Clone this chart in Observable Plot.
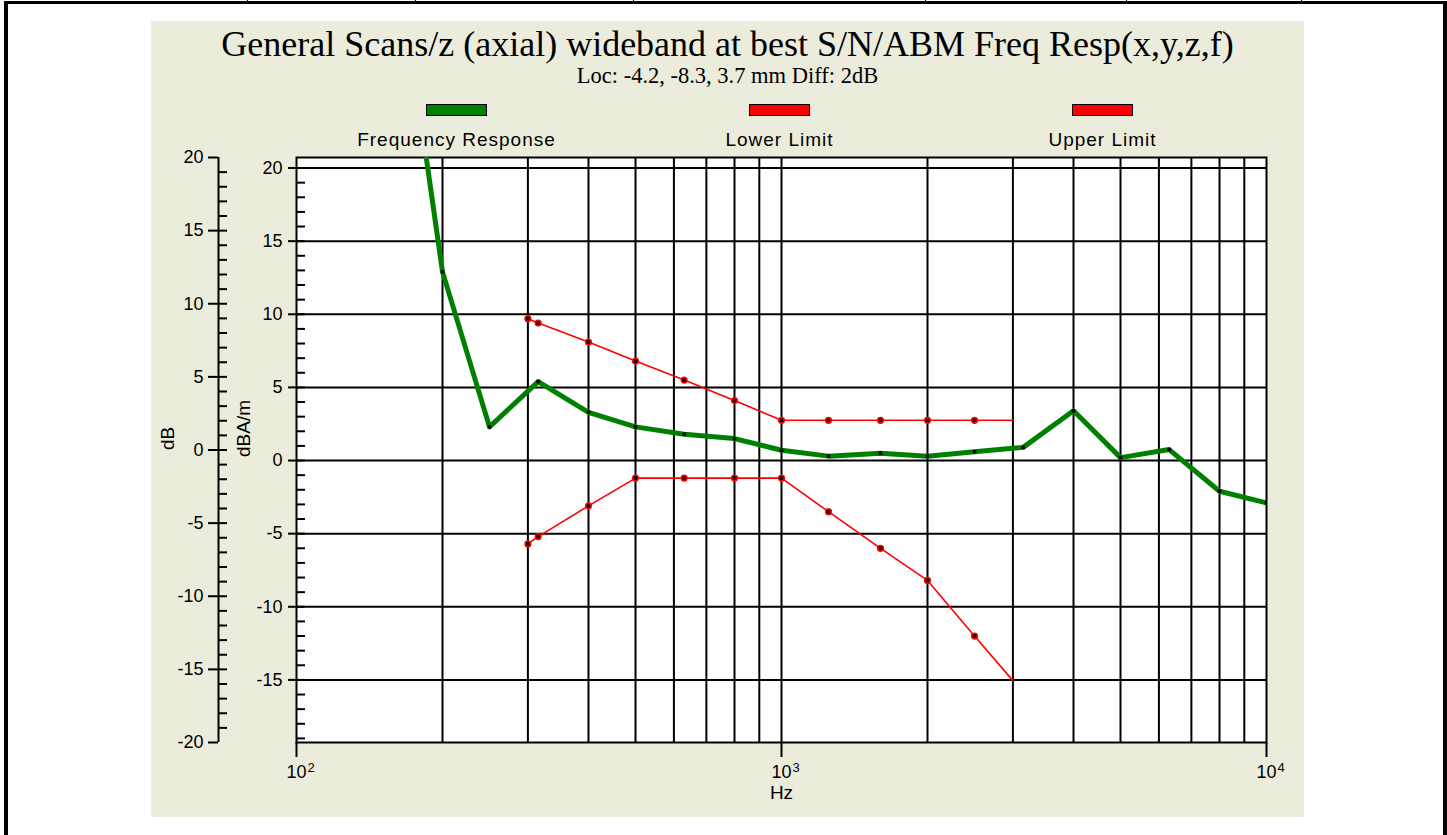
<!DOCTYPE html>
<html><head><meta charset="utf-8">
<script src="https://cdn.jsdelivr.net/npm/d3@7"></script>
<script src="https://cdn.jsdelivr.net/npm/@observablehq/plot@0.6"></script>
<style>
html,body{margin:0;padding:0;background:#fff;}
#page{position:relative;width:1447px;height:835px;overflow:hidden;background:#fff;}
.bar{position:absolute;background:#000;}
#panel{position:absolute;left:151px;top:21px;width:1153px;height:796px;background:#ECECDC;}
.ttl{position:absolute;left:0;width:1153px;text-align:center;font-family:"Liberation Serif","Times New Roman",serif;color:#000;white-space:nowrap;line-height:1;}
.sw{position:absolute;width:59px;height:10px;border:1px solid #000;}
.lg{position:absolute;width:300px;text-align:center;font-family:"Liberation Sans",Arial,sans-serif;font-size:19px;letter-spacing:1px;line-height:1;color:#000;white-space:nowrap;}
#chart{position:absolute;left:0;top:116px;}
</style></head>
<body>
<div id="page">
  <div class="bar" style="left:4px;top:1px;width:1443px;height:3px;"></div>
  <div class="bar" style="left:4px;top:1px;width:4px;height:834px;"></div>
  <div class="bar" style="left:1443px;top:1px;width:4px;height:834px;"></div>
  <div class="bar" style="left:247px;top:0;width:1px;height:2px;"></div>
  <div class="bar" style="left:415px;top:0;width:1px;height:2px;"></div>
  <div class="bar" style="left:633px;top:0;width:1px;height:2px;"></div>
  <div class="bar" style="left:925px;top:0;width:1px;height:2px;"></div>
  <div class="bar" style="left:1126px;top:0;width:1px;height:2px;"></div>
  <div class="bar" style="left:1301px;top:0;width:1px;height:2px;"></div>
  <div id="panel">
    <div class="ttl" id="title" style="top:5px;font-size:36px;"></div>
    <div class="ttl" id="subtitle" style="top:44px;font-size:22.5px;"></div>
    <div id="legend"></div>
    <div id="chart"></div>
  </div>
</div>
<script>
// ---- data ----
const title = "General Scans/z (axial) wideband at best S/N/ABM Freq Resp(x,y,z,f)";
const subtitle = "Loc: -4.2, -8.3, 3.7 mm Diff: 2dB";
const seriesNames = ["Frequency Response", "Lower Limit", "Upper Limit"];
const seriesColors = ["#008000", "#ff0000", "#ff0000"];

const freq = [160, 200, 250, 315, 400, 500, 630, 800, 1000, 1250, 1600, 2000, 2500, 3150, 4000, 5000, 6300, 8000, 10000];
const response = [35.5, 12.9, 2.3, 5.4, 3.3, 2.3, 1.8, 1.5, 0.7, 0.3, 0.5, 0.3, 0.6, 0.9, 3.4, 0.2, 0.75, -2.1, -2.9];

const limitFreq = [300, 315, 400, 500, 630, 800, 1000, 1250, 1600, 2000, 2500, 3000];
const upperLimit = [9.7, 9.4, 8.1, 6.8, 5.5, 4.1, 2.75, 2.75, 2.75, 2.75, 2.75, 2.75];
const lowerLimit = [-5.7, -5.2, -3.1, -1.2, -1.2, -1.2, -1.2, -3.5, -6.0, -8.2, -12.0, -15.05];

const innerTicks = [-15, -10, -5, 0, 5, 10, 15, 20];      // dBA/m axis
const outerTicks = [-20, -15, -10, -5, 0, 5, 10, 15, 20]; // dB axis
const xTicks = [100, 1000, 10000];
const xTickBase = "10";
const xTickExp = ["2", "3", "4"];
const xGrid = [200, 300, 400, 500, 600, 700, 800, 900, 1000, 2000, 3000, 4000, 5000, 6000, 7000, 8000, 9000];
const dBAoffset = 0.72;            // dBA/m value = dB value + offset
const yDomain = [-19.28, 20.72];   // dBA/m

// ---- header & legend ----
document.getElementById("title").textContent = title;
document.getElementById("subtitle").textContent = subtitle;
const legend = document.getElementById("legend");
const legendCenters = [305.5, 628.5, 951.5];
seriesNames.forEach((name, i) => {
  const sw = document.createElement("div");
  sw.className = "sw";
  sw.style.left = (legendCenters[i] - 30.5) + "px";
  sw.style.top = "83px";
  sw.style.background = seriesColors[i];
  legend.appendChild(sw);
  const lb = document.createElement("div");
  lb.className = "lg";
  lb.style.left = (legendCenters[i] - 150) + "px";
  lb.style.top = "109px";
  lb.textContent = name;
  legend.appendChild(lb);
});

// ---- chart ----
const respData = freq.map((f, i) => ({f, v: response[i]}));
const upperData = limitFreq.map((f, i) => ({f, v: upperLimit[i]}));
const lowerData = limitFreq.map((f, i) => ({f, v: lowerLimit[i]}));
const upperMarks = upperData.slice(0, -1);
const lowerMarks = lowerData.slice(0, -1);
const innerMinor = d3.range(-19, 21);
const outerMinor = d3.range(-19, 20).map(v => v + dBAoffset);
const outerMajor = outerTicks.map(v => v + dBAoffset);

const W = 1153, H = 680, mL = 145, mR = 38, mT = 20, mB = 75;
const frameW = W - mL - mR;
const frameH = H - mT - mB;
const ax = 78; // outer axis distance left of frame
const K = {stroke: "#000", strokeWidth: 2};

const chart = Plot.plot({
  width: W, height: H,
  marginLeft: mL, marginRight: mR, marginTop: mT, marginBottom: mB,
  x: {type: "log", domain: [100, 10000], axis: null},
  y: {domain: yDomain, axis: null},
  style: {background: "transparent", fontFamily: "'Liberation Sans', Arial, sans-serif", fontSize: "18px", color: "#000", overflow: "visible"},
  marks: [
    Plot.frame({fill: "white", stroke: "none"}),
    Plot.ruleX(xGrid, K),
    Plot.ruleY(innerTicks, K),
    Plot.frame({fill: "none", stroke: "#000", strokeWidth: 2}),
    // inner (dBA/m) axis
    Plot.tickY(innerMinor, {...K, insetRight: frameW - 9}),
    Plot.tickY(innerTicks, {...K, insetRight: frameW - 8, dx: -8}),
    Plot.text(innerTicks, {y: d => d, text: d => String(d), frameAnchor: "left", textAnchor: "end", dx: -14, fontSize: 18}),
    // outer (dB) axis
    Plot.ruleX([100], {...K, dx: -ax}),
    Plot.tickY(outerMajor, {...K, insetRight: frameW - 10, dx: -ax - 10}),
    Plot.tickY(outerMinor, {...K, insetRight: frameW - 9, dx: -ax}),
    Plot.text(outerTicks, {y: d => d + dBAoffset, text: d => String(d), frameAnchor: "left", textAnchor: "end", dx: -93, fontSize: 18}),
    Plot.text(["dB"], {frameAnchor: "left", dx: -129, rotate: -90, fontSize: 19}),
    Plot.text(["dBA/m"], {frameAnchor: "left", dx: -53, dy: 7, rotate: -90, fontSize: 19}),
    // x axis
    Plot.tickX(xTicks, {...K, insetTop: frameH - 15, dy: 15}),
    Plot.text(xTicks, {x: d => d, text: () => xTickBase, frameAnchor: "bottom", lineAnchor: "top", textAnchor: "middle", dy: 23, fontSize: 18}),
    Plot.text(xTicks, {x: d => d, text: (d, i) => xTickExp[i], frameAnchor: "bottom", lineAnchor: "top", textAnchor: "start", dx: 11, dy: 20, fontSize: 13}),
    Plot.text(["Hz"], {frameAnchor: "bottom", dy: 56, fontSize: 19}),
    // data
    Plot.line(upperData, {x: "f", y: "v", stroke: "#ff0000", strokeWidth: 1.6}),
    Plot.line(lowerData, {x: "f", y: "v", stroke: "#ff0000", strokeWidth: 1.6}),
    Plot.dot(upperMarks, {x: "f", y: "v", r: 3.6, fill: "#ff0000"}),
    Plot.dot(lowerMarks, {x: "f", y: "v", r: 3.6, fill: "#ff0000"}),
    Plot.dot(upperMarks, {x: "f", y: "v", r: 2, symbol: "square", fill: "#000"}),
    Plot.dot(lowerMarks, {x: "f", y: "v", r: 2, symbol: "square", fill: "#000"}),
    Plot.line(respData, {x: "f", y: "v", stroke: "#008000", strokeWidth: 5, clip: true}),
    Plot.dot(respData, {x: "f", y: "v", r: 2, symbol: "square", fill: "#000", clip: true})
  ]
});
document.getElementById("chart").appendChild(chart);
</script>
</body></html>
